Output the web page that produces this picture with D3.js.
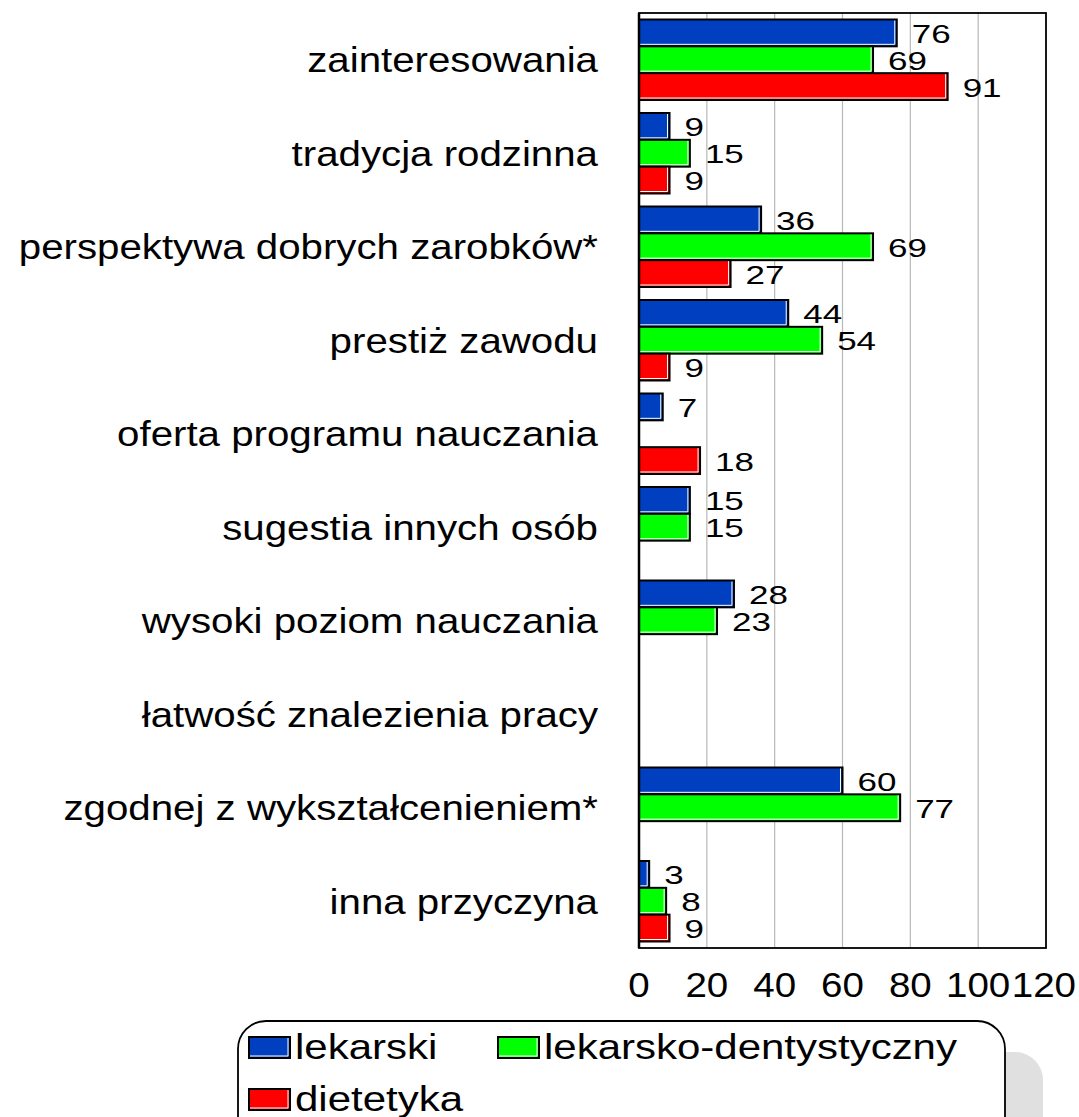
<!DOCTYPE html>
<html>
<head>
<meta charset="utf-8">
<script src="https://cdn.jsdelivr.net/npm/d3@7"></script>
<style>
  body { margin: 0; background: #fff; }
  svg { display: block; font-family: "Liberation Sans", Arial, sans-serif; }
</style>
</head>
<body>
<div id="chart"></div>
<script>
"use strict";

// ---- data ----
var categories = [
	"zainteresowania",
	"tradycja rodzinna",
	"perspektywa dobrych zarobków*",
	"prestiż zawodu",
	"oferta programu nauczania",
	"sugestia innych osób",
	"wysoki poziom nauczania",
	"łatwość znalezienia pracy",
	"zgodnej z wykształcenieniem*",
	"inna przyczyna"
];
var seriesNames = ["lekarski", "lekarsko-dentystyczny", "dietetyka"];
var lekarski = [76, 9, 36, 44, 7, 15, 28, null, 60, 3];
var dentystyczny = [69, 15, 69, 54, null, 15, 23, null, 77, 8];
var dietetyka = [91, 9, 27, 9, 18, null, null, null, null, 9];
var xTicks = [0, 20, 40, 60, 80, 100, 120];
var colors = ["#0040C0", "#00FF00", "#FF0000"];

var seriesValues = [lekarski, dentystyczny, dietetyka];

// ---- layout ----
var W = 1079, H = 1117;
var plot = {left: 639, right: 1046, top: 13, bottom: 948};
var sxCat = 1.15,  // horizontal stretch of the category labels
	sxTick = 1.1,  // tick labels
	sxBig = 1.2,   // legend
	sxVal = 1.4;   // value labels

var svg = d3.select("#chart").append("svg")
	.attr("width", W)
	.attr("height", H);

var x = d3.scaleLinear().domain([0, 120]).range([plot.left, plot.right]);
var y0 = d3.scaleBand().domain(categories).range([plot.top, plot.bottom]).padding(0);
var y1 = d3.scaleBand().domain(seriesNames).range([6.5, y0.bandwidth() - 6.5]).padding(0);

// gridlines
svg.append("g").selectAll("line")
	.data(xTicks.filter(function(t){ return t > 0 && t < 120; }))
	.enter().append("line")
	.attr("x1", function(d){ return x(d); })
	.attr("x2", function(d){ return x(d); })
	.attr("y1", plot.top)
	.attr("y2", plot.bottom)
	.attr("stroke", "#b8b8b8")
	.attr("stroke-width", 1.2);

// bars
var rows = [];
categories.forEach(function(c, i){
	seriesNames.forEach(function(s, j){
		var v = seriesValues[j][i];
		if(v != null) rows.push({cat: c, series: s, idx: j, value: v});
	});
});

var bars = svg.append("g").selectAll("g.bar")
	.data(rows)
	.enter().append("g")
	.attr("class", "bar")
	.attr("transform", function(d){ return "translate(0," + (y0(d.cat) + y1(d.series)) + ")"; });

bars.append("rect")
	.attr("x", x(0))
	.attr("y", 0)
	.attr("width", function(d){ return x(d.value) - x(0); })
	.attr("height", y1.bandwidth())
	.attr("fill", function(d){ return colors[d.idx]; })
	.attr("stroke", "#000")
	.attr("stroke-width", 2);

// thin light edge inside right / bottom
bars.append("path")
	.attr("d", function(d){
		var w = x(d.value) - x(0), h = y1.bandwidth();
		return "M" + (x(0) + 1) + "," + (h - 2) + "H" + (x(0) + w - 2) + "V1";
	})
	.attr("fill", "none")
	.attr("stroke", "#fff")
	.attr("stroke-width", 1);

// value labels
bars.append("text")
	.attr("transform", function(d){
		return "translate(" + (x(d.value) + 15) + "," + (y1.bandwidth() / 2 + 10) + ") scale(" + sxVal + ",1)";
	})
	.style("font-size", "25px")
	.attr("fill", "#000")
	.text(function(d){ return d.value; });

// plot frame
svg.append("rect")
	.attr("x", plot.left)
	.attr("y", plot.top)
	.attr("width", plot.right - plot.left)
	.attr("height", plot.bottom - plot.top)
	.attr("fill", "none")
	.attr("stroke", "#000")
	.attr("stroke-width", 1.8);
svg.append("line")
	.attr("x1", plot.left).attr("x2", plot.left)
	.attr("y1", plot.top).attr("y2", plot.bottom)
	.attr("stroke", "#000")
	.attr("stroke-width", 2.5);

// category labels
svg.append("g").selectAll("text")
	.data(categories)
	.enter().append("text")
	.attr("transform", function(d){
		return "translate(" + 598 + "," + (y0(d) + y0.bandwidth() / 2 + 12.5) + ") scale(" + sxCat + ",1)";
	})
	.attr("text-anchor", "end")
	.style("font-size", "35px")
	.text(function(d){ return d; });

// x tick labels (last one pulled in so it stays inside the page)
svg.append("g").selectAll("text")
	.data(xTicks)
	.enter().append("text")
	.style("font-size", "35px")
	.attr("text-anchor", "middle")
	.text(function(d){ return d; })
	.each(function(d){
		var t = d3.select(this);
		var w = this.getComputedTextLength() * sxTick;
		var cx = Math.min(x(d), W - 3 - w / 2);
		t.attr("transform", "translate(" + cx + "," + (plot.bottom + 49) + ") scale(" + sxTick + ",1)");
	});

// legend
var legend = svg.append("g");
legend.append("rect")
	.attr("x", 276).attr("y", 1052)
	.attr("width", 767).attr("height", 130)
	.attr("rx", 28)
	.attr("fill", "#e0e0e0");
legend.append("rect")
	.attr("x", 238).attr("y", 1021)
	.attr("width", 767).attr("height", 130)
	.attr("rx", 28)
	.attr("fill", "#fff")
	.attr("stroke", "#000")
	.attr("stroke-width", 1.8);

var legendPos = [
	{x: 249, y: 1047},
	{x: 498, y: 1047},
	{x: 249, y: 1099}
];
var items = legend.selectAll("g.item")
	.data(seriesNames)
	.enter().append("g")
	.attr("class", "item")
	.attr("transform", function(d, i){ return "translate(" + legendPos[i].x + "," + legendPos[i].y + ")"; });

items.append("rect")
	.attr("x", 0).attr("y", -10)
	.attr("width", 41).attr("height", 21)
	.attr("fill", function(d, i){ return colors[i]; })
	.attr("stroke", "#000")
	.attr("stroke-width", 2);
items.append("path")
	.attr("d", "M1,9H39V-9")
	.attr("fill", "none")
	.attr("stroke", "#fff")
	.attr("stroke-width", 1);
items.append("text")
	.attr("transform", "translate(46,12) scale(" + sxBig + ",1)")
	.style("font-size", "35px")
	.text(function(d){ return d; });
</script>
</body>
</html>
